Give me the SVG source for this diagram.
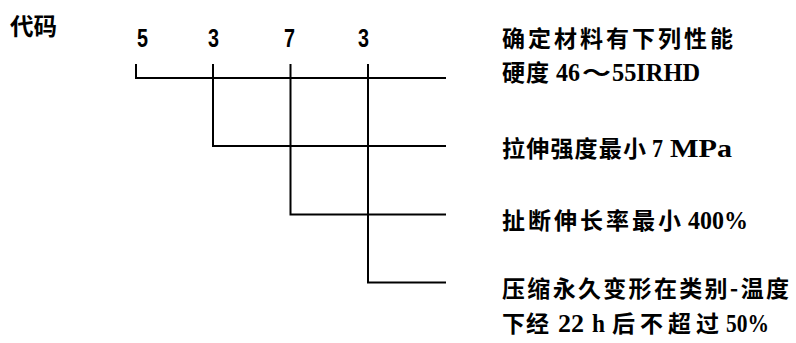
<svg xmlns="http://www.w3.org/2000/svg" width="796" height="343" viewBox="0 0 796 343">
<style>
  .bg{fill:#ffffff}
  .cn{font-family:"Noto Sans CJK SC","Noto Sans CJK JP",sans-serif;font-weight:700;font-size:23px;fill:#000}
  .lat{font-family:"Liberation Serif","Times New Roman",serif;font-weight:700;font-size:26px;fill:#000}
  .dig{font-family:"Liberation Sans",Arial,sans-serif;font-weight:700;font-size:25px;fill:#000}
  .title{font-family:"Noto Sans CJK SC","Noto Sans CJK JP",sans-serif;font-weight:700;font-size:24px;fill:#000}
  .conn{fill:none;stroke:#000;stroke-width:2;stroke-linecap:square;stroke-linejoin:miter}
</style>
<rect class="bg" x="0" y="0" width="796" height="343"/>
<g id="title"><text class="title" x="10" y="35" textLength="47" lengthAdjust="spacingAndGlyphs">代码</text></g>
<g id="code-digits">
  <text class="dig" x="137" y="47" textLength="11" lengthAdjust="spacingAndGlyphs">5</text>
  <text class="dig" x="208" y="47" textLength="11" lengthAdjust="spacingAndGlyphs">3</text>
  <text class="dig" x="284" y="47" textLength="11" lengthAdjust="spacingAndGlyphs">7</text>
  <text class="dig" x="358" y="47" textLength="11" lengthAdjust="spacingAndGlyphs">3</text>
</g>
<g id="connectors">
  <path class="conn" d="M136,65 V78 H445"/>
  <path class="conn" d="M213,65 V146 H445"/>
  <path class="conn" d="M290.5,65 V214.5 H445"/>
  <path class="conn" d="M368,65 V282.5 H445"/>
</g>
<g id="node-header"><text class="cn" x="502" y="47" textLength="231" lengthAdjust="spacing">确定材料有下列性能</text></g>
<g id="node-hardness">
  <text class="cn" x="502" y="81" textLength="47" lengthAdjust="spacing">硬度</text>
  <text class="lat" x="556" y="81" textLength="24" lengthAdjust="spacingAndGlyphs">46</text>
  <text class="cn" x="582" y="81" textLength="29" lengthAdjust="spacingAndGlyphs">～</text>
  <text class="lat" x="612" y="81" textLength="88" lengthAdjust="spacingAndGlyphs">55IRHD</text>
</g>
<g id="node-tensile">
  <text class="cn" x="502" y="157" textLength="144" lengthAdjust="spacing">拉伸强度最小</text>
  <text class="lat" x="652" y="157" textLength="11" lengthAdjust="spacingAndGlyphs">7</text>
  <text class="lat" x="670" y="157" textLength="62" lengthAdjust="spacingAndGlyphs">MPa</text>
</g>
<g id="node-elongation">
  <text class="cn" x="502" y="229" textLength="179" lengthAdjust="spacing">扯断伸长率最小</text>
  <text class="lat" x="688" y="229" textLength="60" lengthAdjust="spacingAndGlyphs">400%</text>
</g>
<g id="node-compression">
  <text class="cn" x="502" y="297" textLength="287" lengthAdjust="spacing">压缩永久变形在类别-温度</text>
  <text class="cn" x="502" y="332" textLength="47" lengthAdjust="spacing">下经</text>
  <text class="lat" x="558" y="332" textLength="26" lengthAdjust="spacingAndGlyphs">22</text>
  <text class="lat" x="592" y="332" textLength="13" lengthAdjust="spacingAndGlyphs">h</text>
  <text class="cn" x="612" y="332" textLength="107" lengthAdjust="spacing">后不超过</text>
  <text class="lat" x="726" y="332" textLength="43" lengthAdjust="spacingAndGlyphs">50%</text>
</g>
</svg>
